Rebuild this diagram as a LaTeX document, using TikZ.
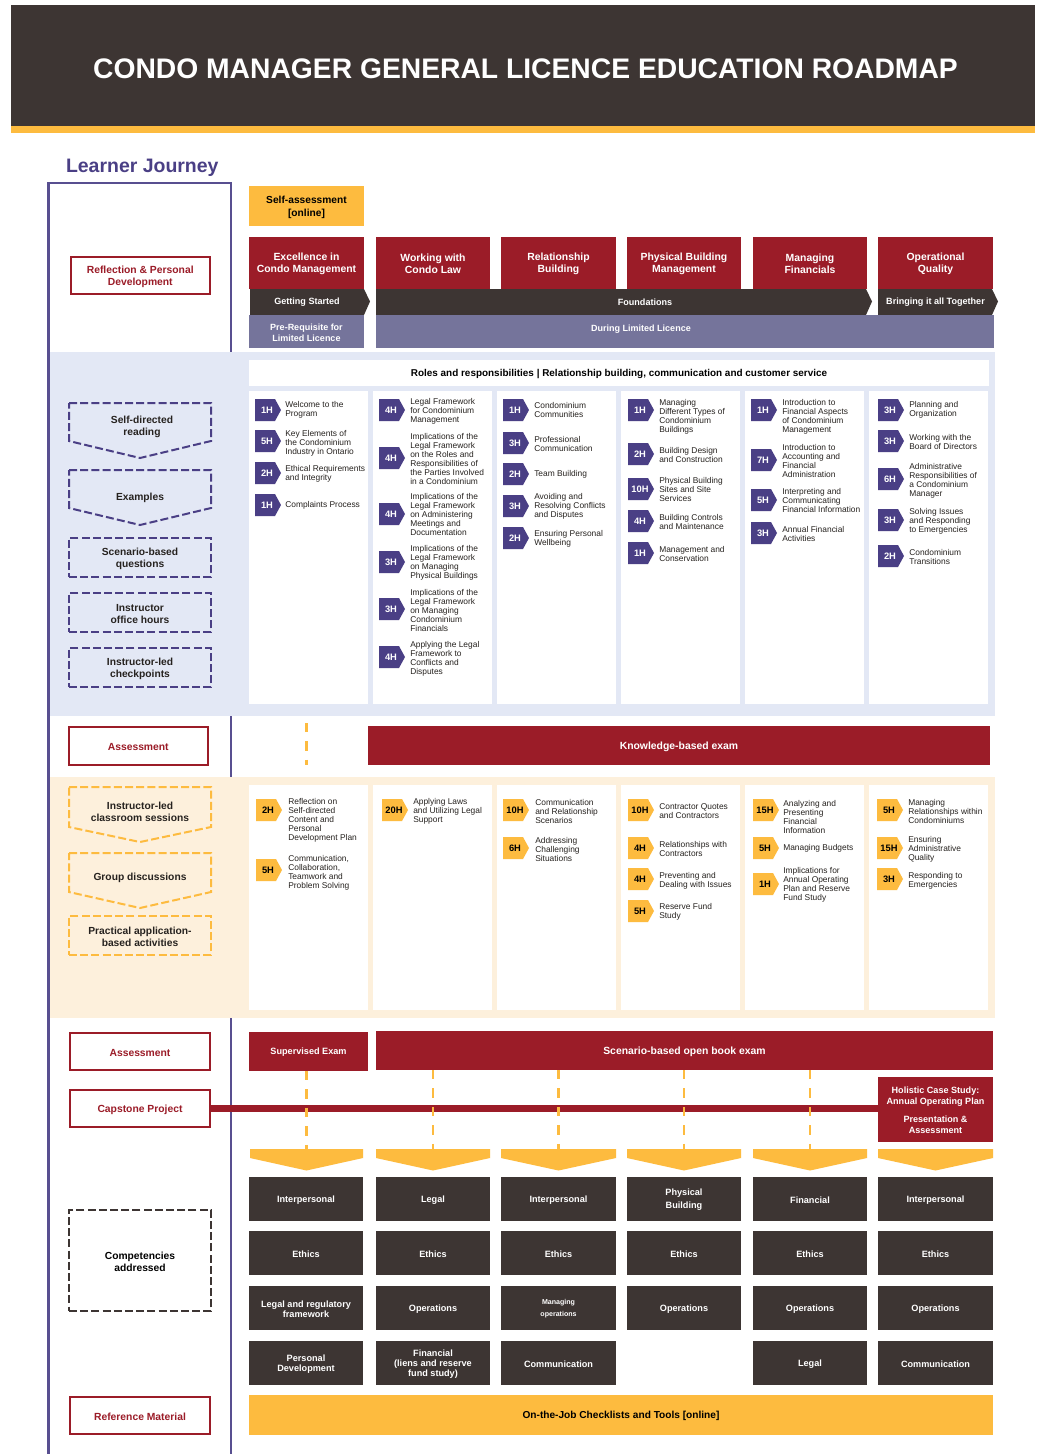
\documentclass[tikz,border=0pt]{standalone}
\usepackage{fontspec}
\setmainfont{Liberation Sans}
\definecolor{cdark}{HTML}{3D3533}
\definecolor{cgold}{HTML}{FDBB3F}
\definecolor{cred}{HTML}{9B1C28}
\definecolor{cpurple}{HTML}{4A3F85}
\definecolor{cframe}{HTML}{584F90}
\definecolor{cslate}{HTML}{75749B}
\definecolor{cblue}{HTML}{E3E8F5}
\definecolor{ccream}{HTML}{FDF0DC}
\definecolor{ctext}{HTML}{26221F}
\newcounter{pn}
\newcommand{\bx}[7]{\node[base,#6,anchor=north west,minimum width={(#4-#2)*0.75pt},minimum height={(#5-#3)*0.75pt}] (#1) at (#2,#3) {\rule{0pt}{0.95em}#7};}
\newcommand{\itm}[7]{\stepcounter{pn}%
  \fill[#1] (#2,#3) ++(0,-11) -- ++(20,0) -- ++(6,11) -- ++(-6,11) -- ++(-20,0) -- cycle;
  \path (#2,#3) ++(12,0) node[pilltxt,text=#1txt] (pl\thepn) {#6};
  \node[itemtxt] (it\thepn) at (#4,#5) {#7};}
\newcommand{\pu}[5]{\itm{pp}{#1}{#2}{#3}{#4}{#5}}
\tikzset{
  base/.style={inner sep=0pt,outer sep=0pt,align=center},
  redhead/.style={fill=cred,text=white,font=\bfseries\fontsize{7.8}{9}\selectfont},
  redbox/.style={fill=cred,text=white,font=\bfseries\fontsize{7.8}{9}\selectfont},
  outline/.style={draw=cred,line width=1.5pt,fill=white,text=cred,font=\bfseries\fontsize{7.75}{9}\selectfont},
  lefttxt/.style={text=ctext,font=\bfseries\fontsize{7.7}{9.2}\selectfont},
  dashp/.style={draw=cpurple,line width=1.5pt,dash pattern=on 6pt off 2.4pt,lefttxt},
  dashg/.style={draw=cgold,line width=1.5pt,dash pattern=on 6pt off 2.4pt,lefttxt},
  dashk/.style={draw=cdark,line width=1.5pt,dash pattern=on 6pt off 2.4pt,lefttxt,text=black},
  cell/.style={fill=cdark,text=white,font=\bfseries\fontsize{6.85}{8}\selectfont},
  band/.style={fill=cdark,text=white,font=\bfseries\fontsize{6.8}{8}\selectfont},
  slate/.style={fill=cslate,text=white,font=\bfseries\fontsize{6.75}{8.4}\selectfont},
  goldbox/.style={fill=cgold,text=black,font=\bfseries\fontsize{7.65}{9.6}\selectfont},
  frame line/.style={draw=cframe,line width=2.2pt},
  gold dash/.style={draw=cgold,line width=2.2pt,dash pattern=on 7.1pt off 6.75pt},
  pilltxt/.style={inner sep=0pt,font=\bfseries\fontsize{7}{8}\selectfont},
  itemtxt/.style={anchor=west,inner sep=0pt,align=left,yshift=-0.5pt,text=ctext,font=\fontsize{6.3}{6.75}\selectfont},
  pp/.style={fill=cpurple}, gg/.style={fill=cgold},
  chev/.style={fill=cgold},
}
\colorlet{pptxt}{white}
\colorlet{ggtxt}{black}
\begin{document}
\begin{tikzpicture}[x=0.75pt,y=-0.75pt]
\useasboundingbox (0,0) rectangle (1039,1454);
\fill[white] (0,0) rectangle (1039,1454);
% header
\fill[cdark] (11,5) rectangle (1035,127);
\fill[cgold] (11,126) rectangle (1035,132.5);
\node[base,text=white,font=\bfseries\fontsize{21.2}{26}\selectfont] (title) at (525.5,68.5) {CONDO MANAGER GENERAL LICENCE EDUCATION ROADMAP};
\node[base,anchor=west,text=cpurple,font=\bfseries\fontsize{14.6}{17}\selectfont] (lj) at (66,168) {Learner Journey};
% frame
\draw[frame line] (48.5,1454) -- (48.5,183) -- (231,183) -- (231,1454);
% bands
\fill[cblue] (50,352) rectangle (995,716);
\fill[ccream] (50,777) rectangle (995,1018);
% top section
\bx{selfa}{249}{186}{364}{226}{goldbox}{Self-assessment\\{[online]}}
\bx{h1}{249}{237}{364}{289}{redhead}{Excellence in\\Condo Management}
\bx{h2}{376}{237}{490}{289}{redhead}{Working with\\Condo Law}
\bx{h3}{501}{237}{616}{289}{redhead}{Relationship\\Building}
\bx{h4}{627}{237}{741}{289}{redhead}{Physical Building\\Management}
\bx{h5}{753}{237}{867}{289}{redhead}{Managing\\Financials}
\bx{h6}{878}{237}{993}{289}{redhead}{Operational\\Quality}
\fill[cdark] (250,289) -- (364,289) -- (370,301.5) -- (364,315) -- (250,315) -- cycle;
\fill[cdark] (376,289) -- (866,289) -- (872,301.5) -- (866,315) -- (376,315) -- cycle;
\fill[cdark] (878,289) -- (992,289) -- (998,301.5) -- (992,315) -- (878,315) -- cycle;
\node[base,band,fill=none] (gs) at (307,302.5) {Getting Started};
\node[base,band,fill=none] (fd) at (645,302.5) {Foundations};
\node[base,band,fill=none] (bt) at (935.5,302.5) {Bringing it all Together};
\bx{s1}{249}{315}{364}{348}{slate}{Pre-Requisite for\\Limited Licence}
\fill[cslate] (376,315) rectangle (994,348);
\node[base,slate,fill=none] (s2) at (641,329) {During Limited Licence};
\bx{ref}{70.5}{257}{210}{294}{outline}{Reflection \& Personal\\Development}
% roles
\bx{roles}{249}{360}{989}{386}{fill=white,text=black,font=\bfseries\fontsize{7.45}{8}\selectfont}{Roles and responsibilities | Relationship building, communication and customer service}
% white cols
\foreach \a/\b in {249/368,373/492,497/616,621/740,745/864,869/988}{
  \fill[white] (\a,391) rectangle (\b,704);
  \fill[white] (\a,785) rectangle (\b,1010);
}
% left dashed blue
\draw[dashp] (69,403) -- (211,403) -- (211,441) -- (140,458) -- (69,441) -- cycle;
\node[base,lefttxt] (d1) at (142,427) {Self-directed\\reading};
\draw[dashp] (69,470) -- (211,470) -- (211,508) -- (140,525) -- (69,508) -- cycle;
\node[base,lefttxt] (d2) at (140,498) {Examples};
\bx{d3}{69}{538}{211}{577}{dashp}{Scenario-based\\questions}
\bx{d4}{69}{593}{211}{632}{dashp}{Instructor\\office hours}
\bx{d5}{69}{648}{211}{687}{dashp}{Instructor-led\\checkpoints}
% assessment row
\bx{as1}{68.5}{727}{208}{765}{outline}{Assessment}
\bx{kb}{368}{726}{990}{765}{redbox}{Knowledge-based exam}
\coordinate (da1) at (306.5,723);
\coordinate (da2) at (306.5,765);
\draw[gold dash] (da1) -- (da2);
% left dashed cream
\draw[dashg] (69,787) -- (211,787) -- (211,827) -- (140,842) -- (69,827) -- cycle;
\node[base,lefttxt] (g1) at (140,812) {Instructor-led\\classroom sessions};
\draw[dashg] (69,853) -- (211,853) -- (211,892) -- (140,908) -- (69,892) -- cycle;
\node[base,lefttxt] (g2) at (140,878) {Group discussions};
\bx{g3}{69}{916}{211}{955}{dashg}{Practical application-\\based activities}
% purple items
\pu{255}{410}{285}{409.5}{1H}{Welcome to the\\Program}
\pu{255}{441}{285}{443}{5H}{Key Elements of\\the Condominium\\Industry in Ontario}
\pu{255}{473}{285}{473.5}{2H}{Ethical Requirements\\and Integrity}
\pu{255}{505}{285}{505}{1H}{Complaints Process}
\pu{379}{410}{410}{411}{4H}{Legal Framework\\for Condominium\\Management}
\pu{379}{458}{410}{458.5}{4H}{Implications of the\\Legal Framework\\on the Roles and\\Responsibilities of\\the Parties Involved\\in a Condominium}
\pu{379}{514}{410}{514}{4H}{Implications of the\\Legal Framework\\on Administering\\Meetings and\\Documentation}
\pu{379}{562}{410}{562}{3H}{Implications of the\\Legal Framework\\on Managing\\Physical Buildings}
\pu{379}{609}{410}{610}{3H}{Implications of the\\Legal Framework\\on Managing\\Condominium\\Financials}
\pu{379}{657}{410}{658}{4H}{Applying the Legal\\Framework to\\Conflicts and\\Disputes}
\pu{503}{410}{534}{409.5}{1H}{Condominium\\Communities}
\pu{503}{443}{534}{443}{3H}{Professional\\Communication}
\pu{503}{474}{534}{474}{2H}{Team Building}
\pu{503}{506}{534}{506}{3H}{Avoiding and\\Resolving Conflicts\\and Disputes}
\pu{503}{538}{534}{538}{2H}{Ensuring Personal\\Wellbeing}
\pu{628}{410}{659}{416}{1H}{Managing\\Different Types of\\Condominium\\Buildings}
\pu{628}{454}{659}{454}{2H}{Building Design\\and Construction}
\pu{628}{489}{659}{489}{10H}{Physical Building\\Sites and Site\\Services}
\pu{628}{521}{659}{521}{4H}{Building Controls\\and Maintenance}
\pu{628}{553}{659}{553}{1H}{Management and\\Conservation}
\pu{751}{410}{782}{416}{1H}{Introduction to\\Financial Aspects\\of Condominium\\Management}
\pu{751}{460}{782}{460}{7H}{Introduction to\\Accounting and\\Financial\\Administration}
\pu{751}{500}{782}{500}{5H}{Interpreting and\\Communicating\\Financial Information}
\pu{751}{533}{782}{533}{3H}{Annual Financial\\Activities}
\pu{878}{410}{909}{409.5}{3H}{Planning and\\Organization}
\pu{878}{441}{909}{441}{3H}{Working with the\\Board of Directors}
\pu{878}{479}{909}{480}{6H}{Administrative\\Responsibilities of\\a Condominium\\Manager}
\pu{878}{520}{909}{521}{3H}{Solving Issues\\and Responding\\to Emergencies}
\pu{878}{556}{909}{556}{2H}{Condominium\\Transitions}
% gold items
\itm{gg}{256}{810}{288}{820}{2H}{Reflection on\\Self-directed\\Content and\\Personal\\Development Plan}
\itm{gg}{256}{870}{288}{872}{5H}{Communication,\\Collaboration,\\Teamwork and\\Problem Solving}
\itm{gg}{382}{810}{413}{811}{20H}{Applying Laws\\and Utilizing Legal\\Support}
\itm{gg}{503}{810}{535}{811}{10H}{Communication\\and Relationship\\Scenarios}
\itm{gg}{503}{848}{535}{848.5}{6H}{Addressing\\Challenging\\Situations}
\itm{gg}{628}{810}{659}{810}{10H}{Contractor Quotes\\and Contractors}
\itm{gg}{628}{848}{659}{848}{4H}{Relationships with\\Contractors}
\itm{gg}{628}{879}{659}{880}{4H}{Preventing and\\Dealing with Issues}
\itm{gg}{628}{911}{659}{911.5}{5H}{Reserve Fund\\Study}
\itm{gg}{753}{810}{783}{816}{15H}{Analyzing and\\Presenting\\Financial\\Information}
\itm{gg}{753}{848}{783}{848}{5H}{Managing Budgets}
\itm{gg}{753}{884}{783}{884}{1H}{Implications for\\Annual Operating\\Plan and Reserve\\Fund Study}
\itm{gg}{877}{810}{908}{811}{5H}{Managing\\Relationships within\\Condominiums}
\itm{gg}{877}{848}{908}{848.5}{15H}{Ensuring\\Administrative\\Quality}
\itm{gg}{877}{879}{908}{880}{3H}{Responding to\\Emergencies}
% lower left boxes
\bx{as2}{70}{1033}{210}{1070}{outline}{Assessment}
\bx{cap}{70}{1089.5}{210}{1127}{outline}{Capstone Project}
\bx{rm}{70}{1396.5}{210}{1434}{outline}{Reference Material}
\bx{comp}{69}{1210}{211}{1311}{dashk}{Competencies\\addressed}
% exams
\bx{sup}{249}{1032}{368}{1071}{fill=cred,text=white,font=\bfseries\fontsize{6.85}{8}\selectfont}{Supervised Exam}
\bx{scen}{376}{1031}{993}{1070}{redbox}{Scenario-based open book exam}
\bx{hol}{878}{1077}{993}{1142}{fill=cred,text=white,font=\bfseries\fontsize{6.8}{8.4}\selectfont}{Holistic Case Study:\\Annual Operating Plan\\[5pt]Presentation \&\\Assessment}
\draw[cred,line width=5pt] (cap.east) -- (cap.east -| hol.west);
% chevrons
\foreach \n/\a/\b in {1/250/363,2/376/490,3/501/616,4/627/741,5/753/867,6/878/993}{
  \fill[chev] (\a,1149) -- (\b,1149) -- (\b,1158) -- ({(\a+\b)/2},1170.5) -- (\a,1158) -- cycle;
  \coordinate (chev\n) at ({(\a+\b)/2},1149);
}
\draw[gold dash] (chev1 |- sup.south) -- (chev1);
\draw[gold dash] (chev2 |- scen.south) -- (chev2);
\draw[gold dash] (chev3 |- scen.south) -- (chev3);
\draw[gold dash] (chev4 |- scen.south) -- (chev4);
\draw[gold dash] (chev5 |- scen.south) -- (chev5);
% competency cells
\bx{c11}{249}{1177}{363}{1221}{cell}{Interpersonal}
\bx{c12}{376}{1177}{490}{1221}{cell}{Legal}
\bx{c13}{501}{1177}{616}{1221}{cell}{Interpersonal}
\bx{c14}{627}{1177}{741}{1221}{cell,font=\bfseries\fontsize{6.85}{9.6}\selectfont}{Physical\\Building}
\bx{c15}{753}{1177}{867}{1221}{cell}{Financial}
\bx{c16}{878}{1177}{993}{1221}{cell}{Interpersonal}
\bx{c21}{249}{1231}{363}{1275}{cell}{Ethics}
\bx{c22}{376}{1231}{490}{1275}{cell}{Ethics}
\bx{c23}{501}{1231}{616}{1275}{cell}{Ethics}
\bx{c24}{627}{1231}{741}{1275}{cell}{Ethics}
\bx{c25}{753}{1231}{867}{1275}{cell}{Ethics}
\bx{c26}{878}{1231}{993}{1275}{cell}{Ethics}
\bx{c31}{249}{1286}{363}{1330}{cell,font=\bfseries\fontsize{6.85}{7.4}\selectfont}{Legal and regulatory\\framework}
\bx{c32}{376}{1286}{490}{1330}{cell}{Operations}
\bx{c33}{501}{1286}{616}{1330}{cell,font=\bfseries\fontsize{5.3}{9.2}\selectfont}{Managing\\operations}
\bx{c34}{627}{1286}{741}{1330}{cell}{Operations}
\bx{c35}{753}{1286}{867}{1330}{cell}{Operations}
\bx{c36}{878}{1286}{993}{1330}{cell}{Operations}
\bx{c41}{249}{1341}{363}{1385}{cell,font=\bfseries\fontsize{6.85}{7.4}\selectfont}{Personal\\Development}
\bx{c42}{376}{1341}{490}{1385}{cell,font=\bfseries\fontsize{6.85}{7.2}\selectfont}{Financial\\(liens and reserve\\fund study)}
\bx{c43}{501}{1341}{616}{1385}{cell}{Communication}
\bx{c45}{753}{1341}{867}{1385}{cell}{Legal}
\bx{c46}{878}{1341}{993}{1385}{cell}{Communication}
\bx{otj}{249}{1395}{993}{1435}{goldbox,font=\bfseries\fontsize{7.6}{9}\selectfont}{On-the-Job Checklists and Tools [online]}
\end{tikzpicture}
\end{document}
